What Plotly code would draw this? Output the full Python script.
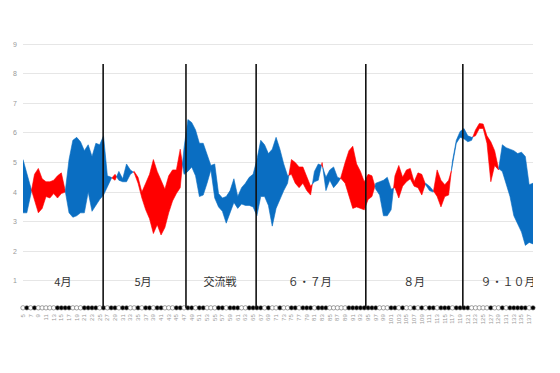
import plotly.graph_objects as go

# ---- data ----
games = list(range(5, 139))
runs_scored = [
    5.1, 4.6, 4.15, 3.75, 3.3, 3.45, 3.85, 3.8, 3.95, 3.8, 3.95, 4.0,          # 5-16
    5.1, 5.75, 5.85, 5.7, 5.4, 5.6, 5.2, 5.65, 5.6, 5.9,                      # 17-26
    4.55, 4.5, 4.4, 4.7, 4.45, 4.95, 4.75, 4.65, 4.3, 3.8, 3.4, 3.1, 2.6,     # 27-39
    2.9, 2.55, 2.8, 3.3, 3.7, 3.95, 4.15, 5.5,                                # 40-47
    6.45, 6.35, 6.1, 5.65, 5.65, 5.3, 4.9, 4.95, 3.95, 3.8, 3.85, 4.05,       # 48-59
    4.45, 3.85, 4.15, 4.3, 4.5, 4.6,                                          # 60-65
    5.1, 5.75, 5.6, 5.3, 5.45, 5.85, 5.45, 4.95, 4.55, 4.6, 4.3, 4.15, 4.3,   # 66-78
    4.05, 3.9, 4.7, 4.95, 4.9, 4.5, 4.75, 4.85, 4.5, 4.45, 4.3, 3.9, 3.45,    # 79-91
    3.5, 3.45, 3.4,                                                           # 92-94
    3.75, 3.85, 4.3, 4.35, 4.4, 4.5, 4.1, 4.15, 3.8, 4.2, 4.35, 4.45, 4.2,    # 95-107
    4.15, 3.9, 4.3, 4.2, 4.05, 3.85, 3.5, 3.85, 3.9, 5.05, 5.75, 6.05,        # 108-119
    6.15, 5.9, 5.85, 5.9, 6.15, 6.15, 5.65, 4.35, 4.9, 4.75, 5.6, 5.5,        # 120-131
    5.45, 5.4, 5.3, 5.35, 5.2, 4.25, 4.3,                                     # 132-138
]
runs_allowed = [
    3.3, 3.3, 3.9, 4.6, 4.8, 4.45, 4.35, 4.35, 4.4, 4.55, 4.65, 4.05,
    3.3, 3.15, 3.2, 3.3, 3.3, 4.0, 3.35, 3.55, 3.75, 3.9,
    4.15, 4.45, 4.6, 4.4, 4.35, 4.35, 4.6, 4.7, 4.5, 4.0, 4.3, 4.6, 5.1,
    4.7, 4.4, 4.1, 4.55, 4.75, 4.75, 5.45, 4.6,
    4.7, 4.85, 4.55, 3.85, 3.9, 4.3, 4.75, 3.8, 3.5, 3.35, 2.95, 3.3,
    3.65, 3.45, 3.6, 3.55, 3.55, 3.5,
    3.2, 3.85, 3.85, 3.55, 2.85, 3.45, 3.75, 4.05, 4.3, 5.1, 5.0, 4.85, 4.85,
    4.5, 4.2, 4.35, 4.4, 5.0, 4.05, 4.4, 4.15, 4.3, 4.5, 5.0, 5.4, 5.55,
    4.95, 4.7, 4.35,
    4.6, 4.55, 4.1, 3.9, 3.2, 3.2, 3.4, 4.55, 4.9, 4.5, 4.75, 4.8, 4.35,
    4.65, 4.6, 4.25, 4.05, 4.0, 4.75, 4.4, 4.25, 4.4, 4.85, 5.65, 5.85,
    5.8, 5.7, 5.75, 6.1, 6.32, 6.3, 5.9, 5.7, 5.4, 4.8, 4.7, 4.3,
    3.85, 3.2, 2.95, 2.65, 2.2, 2.3, 2.25,
]
results = ("WWWWLWLWLLLLLWWWWLLLWWWWLW"
           "LWWLWWLLWLWWLWWLLLWWL"
           "WWLWWLLLWWLWWWLLWW"
           "WWLWLLWLLWWLWWWLWWWLLLLLWWWWW"
           "WWWLLLWWLWLLWLWLWWLWWWLWW"
           "WWLLLLLWLLWLWWWWWLWLWLWL")
result_games = list(range(1, len(results) + 1))
period_labels = ["4月", "5月", "交流戦", "６・７月", "８月", "９・１０月"]
period_label_x = [15.4, 36.3, 56.4, 79.8, 107.0, 131.5]
period_bounds = [25.9, 47.5, 65.8, 94.4, 119.7]
y_ticks = list(range(1, 10))
x_ticks = list(range(5, 138, 2))

BLUE = "#0A6EC2"
RED = "#FF0000"

fig = go.Figure()

# ---- filled band between the two series, coloured by which is on top ----
def add_poly(xs, top, bot, color):
    fig.add_trace(go.Scatter(
        x=xs + xs[::-1], y=top + bot[::-1], mode="lines", fill="toself",
        fillcolor=color, line=dict(width=0.6, color=color), hoverinfo="skip",
        showlegend=False))

xs, a_pts, b_pts = [games[0]], [runs_scored[0]], [runs_allowed[0]]
def sign(d):
    return 1 if d >= 0 else -1
cur = sign(runs_scored[0] - runs_allowed[0])
for i in range(len(games) - 1):
    x0, x1 = games[i], games[i + 1]
    a0, a1 = runs_scored[i], runs_scored[i + 1]
    b0, b1 = runs_allowed[i], runs_allowed[i + 1]
    d0, d1 = a0 - b0, a1 - b1
    if d0 * d1 < 0:
        t = d0 / (d0 - d1)
        xc = x0 + t * (x1 - x0)
        yc = a0 + t * (a1 - a0)
        xs.append(xc); a_pts.append(yc); b_pts.append(yc)
        add_poly(xs, a_pts, b_pts, BLUE if cur > 0 else RED)
        xs, a_pts, b_pts = [xc], [yc], [yc]
        cur = sign(d1)
    xs.append(x1); a_pts.append(a1); b_pts.append(b1)
add_poly(xs, a_pts, b_pts, BLUE if cur > 0 else RED)

# ---- period boundaries ----
for xb in period_bounds:
    fig.add_shape(type="line", x0=xb, x1=xb, y0=0.09, y1=8.33,
                  xref="x", yref="y", line=dict(color="#111111", width=1.6))

# ---- period labels ----
fig.add_trace(go.Scatter(
    x=period_label_x, y=[0.93] * len(period_labels), mode="text",
    text=period_labels, textposition="middle center",
    textfont=dict(family="Noto Sans CJK JP", size=11, color="#333333"),
    hoverinfo="skip", showlegend=False))

# ---- win/loss dots ----
colors = ["#000000" if r == "W" else "#FFFFFF" for r in results]
fig.add_trace(go.Scatter(
    x=result_games, y=[0.09] * len(results), mode="markers",
    marker=dict(size=4.4, color=colors, line=dict(color="#666666", width=0.6)),
    cliponaxis=False, hoverinfo="skip", showlegend=False))

# page has an 8px body margin, so the figure is sized to fit inside the window
fig.update_layout(
    width=552, height=365,
    margin=dict(l=15, r=27, t=0, b=62, autoexpand=False),
    paper_bgcolor="white", plot_bgcolor="white",
    xaxis=dict(range=[5, 138], tickvals=x_ticks, ticktext=[str(v) for v in x_ticks],
               tickangle=-90, tickfont=dict(family="Liberation Sans", size=6, color="#999999"),
               showgrid=False, zeroline=False, showline=False, ticks="",
               ticklabelstandoff=1, automargin=False),
    yaxis=dict(range=[-0.017, 10.22], tickvals=y_ticks,
               tickfont=dict(family="Liberation Sans", size=7, color="#999999"),
               showgrid=True, gridcolor="#E6E6E6", gridwidth=1, zeroline=False,
               showline=False, ticks="", ticklabelstandoff=5, automargin=False),
    showlegend=False,
)

fig.write_html("out.html", config={"displayModeBar": False})
